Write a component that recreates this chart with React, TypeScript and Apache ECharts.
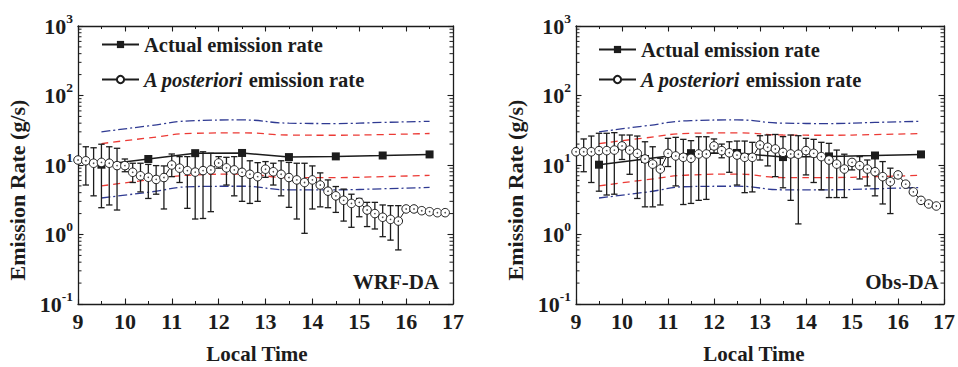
import React, { useEffect, useRef } from "react";
import * as echarts from "echarts";

// ---------- data ----------
const TIME = [
  9.0, 9.167, 9.333, 9.5, 9.667, 9.833, 10.0, 10.167, 10.333, 10.5, 10.667, 10.833,
  11.0, 11.167, 11.333, 11.5, 11.667, 11.833, 12.0, 12.167, 12.333, 12.5, 12.667, 12.833,
  13.0, 13.167, 13.333, 13.5, 13.667, 13.833, 14.0, 14.167, 14.333, 14.5, 14.667, 14.833,
  15.0, 15.167, 15.333, 15.5, 15.667, 15.833, 16.0, 16.167, 16.333, 16.5, 16.667, 16.833,
];
const HOURS = [9.5, 10.5, 11.5, 12.5, 13.5, 14.5, 15.5, 16.5];

const ACTUAL = [10.1, 12.2, 14.8, 14.9, 13.0, 13.3, 13.7, 14.2];
const RED_UP = [20.3, 24.5, 28.6, 29.0, 27.0, 26.8, 27.4, 28.4];
const RED_LO = [5.0, 6.1, 7.2, 7.4, 6.6, 6.6, 6.8, 7.1];
const BLUE_UP = [30, 36.5, 43.5, 44.5, 40, 39.5, 41, 42.5];
const BLUE_LO = [3.35, 4.05, 4.9, 4.95, 4.4, 4.4, 4.55, 4.75];

const WRF_POST = [
  11.8, 11.5, 10.6, 10.9, 10.6, 9.8, 9.8, 7.85, 7.0, 6.65,
  6.2, 6.6, 10.0, 9.0, 8.3, 7.9, 8.3, 8.5, 10.7, 9.1,
  8.5, 7.85, 7.35, 6.8, 8.7, 8.0, 7.35, 6.6, 6.1, 5.6,
  6.1, 5.15, 4.2, 3.6, 3.1, 2.8, 2.9, 2.25, 2.0, 1.77,
  1.65, 1.56, 2.33, 2.33, 2.2, 2.13, 2.06, 2.06,
];
const WRF_LOW = [
  null, 5.15, 3.6, 2.43, 2.66, 2.25, 8.0, 5.6, 4.1, 3.3,
  3.8, 2.33, 6.8, 5.6, 2.38, 1.67, 1.7, 2.13, 9.0, 5.15,
  3.6, 3.0, 2.8, 3.0, 6.65, 5.15, 3.6, 2.46, 1.67, 1.04,
  2.33, 2.5, 2.43, 2.08, 1.56, 1.27, 1.8, 1.3, 1.2, 0.93,
  0.83, 0.6, null, null, null, null, null, null,
];
const WRF_HIGH = [
  null, 18.3, 17.7, 19.9, 18.3, 17.4, 12.2, 10.6, 10.6, 10.2,
  9.8, 9.7, 14.4, 13.2, 13.2, 15.5, 15.5, 14.7, 13.2, 12.9,
  13.2, 16.1, 11.5, 10.8, 11.2, 10.6, 11.5, 10.9, 10.6, 10.6,
  9.7, 7.7, 6.1, 4.9, 4.5, 3.8, 3.3, 2.9, 2.9, 2.66,
  2.6, 2.6, null, null, null, null, null, null,
];

const OBS_POST = [
  15.5, 15.5, 15.5, 16.1, 16.1, 16.4, 18.8, 16.4, 14.7, 12.2,
  10.3, 8.75, 14.7, 13.5, 12.9, 12.5, 14.4, 14.4, 18.8, 16.1,
  15.0, 13.9, 12.9, 12.9, 19.4, 18.0, 17.0, 15.2, 14.4, 14.3,
  16.1, 14.7, 13.2, 11.8, 10.3, 8.75, 10.9, 9.8, 8.75, 8.0,
  6.8, 5.75, 7.2, 5.3, 4.1, 3.1, 2.75, 2.57,
];
const OBS_LOW = [
  null, 8.0, 5.6, 4.2, 3.7, 3.8, 12, 7.35, 3.3, 2.5,
  2.5, 2.66, 9.5, 5.0, 2.7, 2.8, 3.1, 3.2, 14.7, 12.7,
  7.85, 5.15, 4.0, 4.1, 11.8, 9.7, 6.8, 4.7, 3.1, 1.42,
  7.2, 5.6, 4.4, 3.4, 3.4, 3.4, 8.5, 6.3, 5.0, 3.6,
  2.75, 2.0, null, null, null, null, null, null,
];
const OBS_HIGH = [
  null, 23.7, 26.1, 28.6, 28.6, 29.2, 27, 27, 26.1, 21.6,
  18.3, 12.5, 24.2, 25, 23.4, 22.4, 25.5, 25.5, 23.7, 20,
  21.6, 22.1, 22.1, 21.2, 26.4, 27, 27.5, 25.6, 27, 26.4,
  24.2, 23.4, 21.2, 20.5, 16.4, 14.3, 11.8, 13.2, 11.8, 14.7,
  11.2, 9.0, null, null, null, null, null, null,
];

const Y_TICKS = [0.1, 1, 10, 100, 1000];
const Y_SUP = ["-1", "0", "1", "2", "3"];
const Y_MINOR = [
  0.2, 0.3, 0.4, 0.5, 0.6, 0.7, 0.8, 0.9,
  2, 3, 4, 5, 6, 7, 8, 9,
  20, 30, 40, 50, 60, 70, 80, 90,
  200, 300, 400, 500, 600, 700, 800, 900,
];

const NAME_ACTUAL = "Actual emission rate";
const NAME_POST = "A posteriori emission rate";
const PANEL_LABELS = ["WRF-DA", "Obs-DA"];

// ---------- style ----------
const FONT = "'Liberation Serif', 'Times New Roman', serif";
const INK = "#1c1c1c";
const RED = "#ec3a35";
const BLUE = "#2f3a92";

const errorBar = (params: any, api: any) => {
  const x = api.value(0);
  const lo = api.coord([x, api.value(1)]);
  const hi = api.coord([x, api.value(2)]);
  const c = 3.2;
  const st = { stroke: INK, lineWidth: 1.3 };
  return {
    type: "group",
    children: [
      { type: "line", shape: { x1: lo[0], y1: lo[1], x2: hi[0], y2: hi[1] }, style: st },
      { type: "line", shape: { x1: lo[0] - c, y1: lo[1], x2: lo[0] + c, y2: lo[1] }, style: st },
      { type: "line", shape: { x1: hi[0] - c, y1: hi[1], x2: hi[0] + c, y2: hi[1] }, style: st },
    ],
  };
};

const minorTick = (params: any, api: any) => {
  const cs = params.coordSys;
  const y = api.coord([api.value(0), api.value(1)])[1];
  const st = { stroke: INK, lineWidth: 1 };
  return {
    type: "group",
    children: [
      { type: "line", shape: { x1: cs.x, y1: y, x2: cs.x + 3.5, y2: y }, style: st },
      { type: "line", shape: { x1: cs.x + cs.width - 3.5, y1: y, x2: cs.x + cs.width, y2: y }, style: st },
    ],
  };
};

function hourPts(arr: number[]) {
  return HOURS.map((h, i) => [h, arr[i]]);
}

function panelSeries(g: number, post: number[], low: any[], high: any[]) {
  const ax = { xAxisIndex: g * 2, yAxisIndex: g * 2 };
  const pts = TIME.map((t, i) => [t, post[i]]);
  const bars = TIME.map((t, i) => (low[i] == null ? null : [t, low[i], high[i]])).filter((d) => d);
  const bound = (arr: number[], color: string, type: any) => ({
    type: "line",
    ...ax,
    data: hourPts(arr),
    smooth: true,
    symbol: "none",
    silent: true,
    lineStyle: { color, width: 1.3, type },
    z: 2,
  });
  return [
    bound(BLUE_UP, BLUE, [9, 3, 2, 3]),
    bound(BLUE_LO, BLUE, [9, 3, 2, 3]),
    bound(RED_UP, RED, [7, 5]),
    bound(RED_LO, RED, [7, 5]),
    {
      type: "line",
      name: NAME_ACTUAL,
      ...ax,
      data: hourPts(ACTUAL),
      symbol: "rect",
      symbolSize: 8,
      showAllSymbol: true,
      itemStyle: { color: INK },
      lineStyle: { color: INK, width: 1.5 },
      z: 3,
    },
    {
      type: "custom",
      ...ax,
      data: bars,
      renderItem: errorBar,
      encode: { x: 0, y: [1, 2] },
      silent: true,
      z: 4,
    },
    {
      type: "line",
      name: NAME_POST,
      ...ax,
      data: pts,
      symbol: "circle",
      symbolSize: 8.5,
      showAllSymbol: true,
      itemStyle: { color: "#fff", borderColor: INK, borderWidth: 1 },
      lineStyle: { color: INK, width: 1 },
      z: 5,
    },
    {
      type: "scatter",
      ...ax,
      data: pts,
      symbolSize: 1.6,
      itemStyle: { color: INK },
      silent: true,
      z: 6,
    },
    {
      type: "custom",
      ...ax,
      data: Y_MINOR.map((v) => [9, v]),
      renderItem: minorTick,
      encode: { x: 0, y: 1 },
      silent: true,
      clip: false,
      z: 7,
    },
  ];
}

const axisLineStyle = { color: INK, width: 1.3 };

function xAxisDef(g: number, top: boolean) {
  return {
    type: "value",
    gridIndex: g,
    position: top ? "top" : "bottom",
    min: 9,
    max: 17,
    interval: 1,
    axisLine: { show: true, onZero: false, lineStyle: axisLineStyle },
    axisTick: { show: true, inside: true, length: 5.5, lineStyle: { color: INK, width: 1.1 } },
    minorTick: { show: true, splitNumber: 2, length: 3, lineStyle: { color: INK, width: 1 } },
    axisLabel: top
      ? { show: false }
      : { show: true, margin: 6, fontSize: 22, fontWeight: "bold", fontFamily: FONT, color: INK },
    splitLine: { show: false },
    minorSplitLine: { show: false },
  };
}

function yAxisDef(g: number, right: boolean) {
  return {
    type: "log",
    logBase: 10,
    gridIndex: g,
    position: right ? "right" : "left",
    min: 0.1,
    max: 1000,
    axisLine: { show: true, onZero: false, lineStyle: axisLineStyle },
    axisTick: { show: true, inside: true, length: 5.5, lineStyle: { color: INK, width: 1.1 } },
    minorTick: { show: false },
    axisLabel: right
      ? { show: false }
      : {
          show: true,
          margin: 5,
          formatter: (v: number) => {
            const i = Y_TICKS.findIndex((t) => Math.abs(t - v) / t < 1e-6);
            return `{b|10}{s|${i >= 0 ? Y_SUP[i] : ""}}`;
          },
          rich: {
            b: { fontSize: 22, fontWeight: "bold", fontFamily: FONT, color: INK },
            s: { fontSize: 13.5, fontWeight: "bold", fontFamily: FONT, color: INK, padding: [0, 0, 16, 0] },
          },
        },
    splitLine: { show: false },
  };
}

function legendDef(left: number, top: number, gap: number) {
  return {
    orient: "vertical",
    left,
    top,
    itemWidth: 37,
    itemHeight: 9,
    itemGap: gap,
    selectedMode: false,
    data: [NAME_ACTUAL, NAME_POST],
    formatter: (name: string) =>
      name === NAME_POST ? "{i|A posteriori} {b|emission rate}" : "{b|Actual emission rate}",
    textStyle: {
      fontSize: 20,
      fontWeight: "bold",
      fontFamily: FONT,
      color: INK,
      rich: {
        b: { fontSize: 20.5, fontWeight: "bold", fontFamily: FONT, color: INK },
        i: { fontSize: 20.5, fontWeight: "bold", fontStyle: "italic", fontFamily: FONT, color: INK },
      },
    },
  };
}

function txt(text: string, x: number, y: number, size: number, rot = 0) {
  return {
    type: "text",
    x,
    y,
    rotation: rot,
    silent: true,
    style: {
      text,
      font: `bold ${size}px ${FONT}`,
      fill: INK,
      align: "center",
      verticalAlign: "middle",
      textAlign: "center",
      textVerticalAlign: "middle",
    },
  };
}

const option: any = {
  animation: false,
  backgroundColor: "#fff",
  grid: [
    { left: 78, top: 26, width: 375, height: 278 },
    { left: 576, top: 26, width: 376, height: 278 },
  ],
  xAxis: [xAxisDef(0, false), xAxisDef(0, true), xAxisDef(1, false), xAxisDef(1, true)],
  yAxis: [yAxisDef(0, false), yAxisDef(0, true), yAxisDef(1, false), yAxisDef(1, true)],
  legend: [legendDef(96, 29, 14), legendDef(593, 34, 9)],
  series: [
    ...panelSeries(0, WRF_POST, WRF_LOW, WRF_HIGH),
    ...panelSeries(1, OBS_POST, OBS_LOW, OBS_HIGH),
  ],
  graphic: [
    txt("Emission Rate (g/s)", 17, 190, 22, Math.PI / 2),
    txt("Emission Rate (g/s)", 515, 190, 22, Math.PI / 2),
    txt("Local Time", 257, 354, 21),
    txt("Local Time", 754, 354, 21),
    txt(PANEL_LABELS[0], 396, 282, 21),
    txt(PANEL_LABELS[1], 902, 282, 21),
  ],
};

export default function App() {
  const ref = useRef<HTMLDivElement>(null);
  useEffect(() => {
    const chart = echarts.init(ref.current as HTMLDivElement, undefined, { renderer: "svg" });
    chart.setOption(option);
    return () => chart.dispose();
  }, []);
  return (
    <div
      ref={ref}
      style={{ position: "fixed", left: 0, top: 0, width: 958, height: 367, background: "#fff" }}
    />
  );
}
